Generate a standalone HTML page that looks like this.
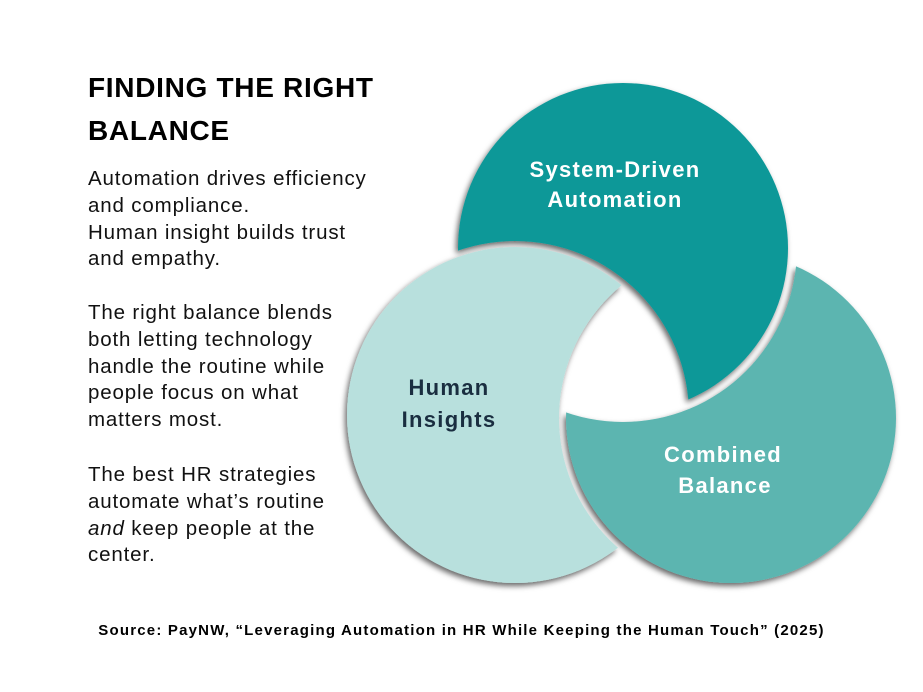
<!DOCTYPE html>
<html><head><style>
body{margin:0;width:923px;height:692px;background:#fff;position:relative;overflow:hidden;font-family:"Liberation Sans",sans-serif;}
.t{position:absolute;left:88px;top:66px;font-size:28px;font-weight:bold;line-height:43px;color:#000;letter-spacing:0.7px}
.b{position:absolute;left:88px;font-size:20.5px;line-height:26.8px;color:#111;letter-spacing:0.85px}
.src{position:absolute;top:622px;left:0;width:923px;text-align:center;font-size:15px;font-weight:bold;color:#000;letter-spacing:1.2px}
</style></head><body>
<div class="t">FINDING THE RIGHT<br>BALANCE</div>
<div class="b" style="top:166px">Automation drives efficiency<br>and compliance.<br>Human insight builds trust<br>and empathy.</div>
<div class="b" style="top:300px">The right balance blends<br>both letting technology<br>handle the routine while<br>people focus on what<br>matters most.</div>
<div class="b" style="top:462px">The best HR strategies<br>automate what’s routine<br><i>and</i> keep people at the<br>center.</div>
<svg width="923" height="692" style="position:absolute;left:0;top:0">
<defs>
<filter id="sh" x="-20%" y="-20%" width="140%" height="140%"><feDropShadow dx="-2" dy="3" stdDeviation="3" flood-color="#000" flood-opacity="0.6"/></filter>
<mask id="m1"><rect width="923" height="692" fill="#fff"/><circle cx="515" cy="415" r="174" fill="#000"/></mask>
<mask id="m2"><rect width="923" height="692" fill="#fff"/><circle cx="731" cy="418" r="172" fill="#000"/></mask>
<mask id="m3"><rect width="923" height="692" fill="#fff"/><circle cx="623" cy="248" r="174" fill="#000"/></mask>
</defs>
<g filter="url(#sh)"><circle cx="623" cy="248" r="165" fill="#0e9898" mask="url(#m1)"/></g>
<g filter="url(#sh)"><circle cx="731" cy="418" r="165" fill="#5bb5b0" mask="url(#m3)"/></g>
<g filter="url(#sh)"><circle cx="515" cy="415" r="168" fill="#b8e0dd" mask="url(#m2)"/></g>
<g font-family="Liberation Sans,sans-serif" font-weight="bold" font-size="22" text-anchor="middle" letter-spacing="1.3">
<text x="615" y="177" fill="#fff">System-Driven</text>
<text x="615" y="207" fill="#fff">Automation</text>
<text x="449" y="395" fill="#1a2e40">Human</text>
<text x="449" y="427" fill="#1a2e40">Insights</text>
<text x="723" y="462" fill="#fff">Combined</text>
<text x="725" y="493" fill="#fff">Balance</text>
</g>
</svg>
<div class="src">Source: PayNW, “Leveraging Automation in HR While Keeping the Human Touch” (2025)</div>
</body></html>
